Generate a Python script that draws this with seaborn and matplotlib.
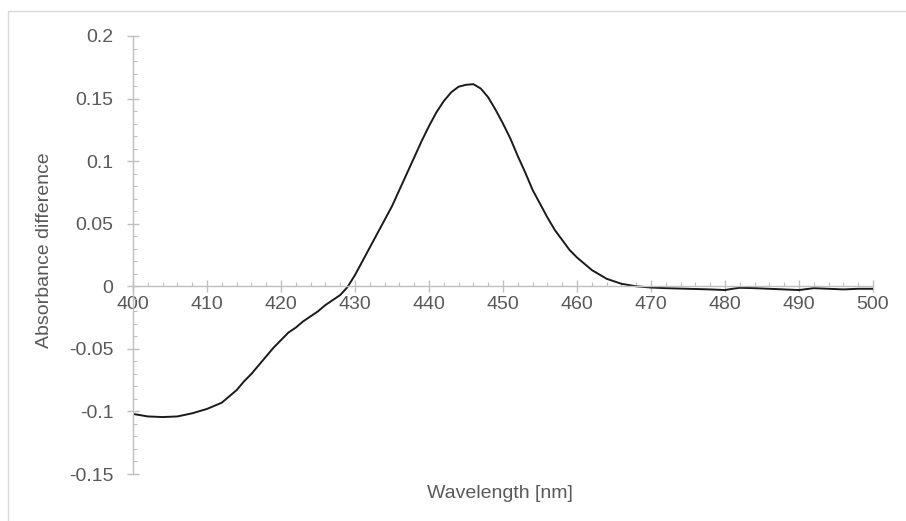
import numpy as np
import pandas as pd
import matplotlib
matplotlib.use("Agg")
import matplotlib.pyplot as plt
from matplotlib.ticker import MultipleLocator, FixedLocator
from matplotlib.lines import Line2D
import seaborn as sns

wavelength = [400, 402, 404, 406, 408, 410, 412, 413, 414, 415, 416, 417, 418, 419,
              420, 421, 422, 423, 424, 425, 426, 427, 428, 429, 430, 431, 432, 433,
              434, 435, 436, 437, 438, 439, 440, 441, 442, 443, 444, 445, 446, 447,
              448, 449, 450, 451, 452, 453, 454, 455, 456, 457, 458, 459, 460, 462,
              464, 466, 468, 470, 472, 475, 478, 480, 481, 482, 484, 486, 488, 490,
              492, 494, 496, 498, 500]
absorbance = [-0.102, -0.104, -0.1045, -0.104, -0.1015, -0.098, -0.093, -0.088, -0.083,
              -0.076, -0.070, -0.063, -0.056, -0.049, -0.043, -0.037, -0.033, -0.028,
              -0.024, -0.020, -0.015, -0.011, -0.007, -0.0005, 0.009, 0.020, 0.031,
              0.042, 0.053, 0.064, 0.077, 0.090, 0.103, 0.116, 0.128, 0.139, 0.148,
              0.155, 0.1595, 0.161, 0.1615, 0.158, 0.151, 0.141, 0.130, 0.118, 0.104,
              0.091, 0.077, 0.066, 0.055, 0.045, 0.037, 0.029, 0.023, 0.013, 0.006,
              0.002, 0.0, -0.001, -0.0015, -0.002, -0.0025, -0.003, -0.002, -0.0012,
              -0.0015, -0.002, -0.0025, -0.003, -0.0015, -0.002, -0.0025, -0.002, -0.002]

x_ticks = [400, 410, 420, 430, 440, 450, 460, 470, 480, 490, 500]
y_ticks = [-0.15, -0.1, -0.05, 0, 0.05, 0.1, 0.15, 0.2]
y_tick_labels = ["-0.15", "-0.1", "-0.05", "0", "0.05", "0.1", "0.15", "0.2"]

df = pd.DataFrame({"Wavelength": wavelength, "Absorbance": absorbance})

sns.set_theme(style="white")
plt.rcParams["font.family"] = ["Liberation Sans", "DejaVu Sans"]

W, H = 906, 521
fig = plt.figure(figsize=(W / 100, H / 100), dpi=100)
ax = fig.add_axes([133 / W, 1 - 474 / H, 740 / W, 438 / H])

sns.lineplot(data=df, x="Wavelength", y="Absorbance", ax=ax, color="#1a1a1a",
             linewidth=1.4)

ax.set_xlim(400, 500)
ax.set_ylim(-0.15, 0.2)

axis_gray = "#bfbfbf"
text_gray = "#595959"

for s in ["top", "right"]:
    ax.spines[s].set_visible(False)
ax.spines["bottom"].set_position(("data", 0))
ax.spines["left"].set_position(("data", 400))
for s in ["bottom", "left"]:
    ax.spines[s].set_color(axis_gray)
    ax.spines[s].set_linewidth(1.0)

ax.xaxis.set_major_locator(FixedLocator(x_ticks))
ax.xaxis.set_minor_locator(MultipleLocator(2))
ax.yaxis.set_major_locator(FixedLocator(y_ticks))
ax.set_yticklabels(y_tick_labels)
ax.yaxis.set_minor_locator(MultipleLocator(0.01))

ax.tick_params(axis="x", which="major", direction="inout", length=8.6, width=1.0,
               color=axis_gray, labelsize=14, labelcolor=text_gray, pad=3.0,
               bottom=True)
ax.tick_params(axis="x", which="minor", direction="in", length=3, width=0.8,
               color=axis_gray, bottom=True)
ax.tick_params(axis="y", which="major", direction="inout", length=9, width=1.0,
               color=axis_gray, labelsize=14, labelcolor=text_gray, pad=9.5,
               left=True)
ax.tick_params(axis="y", which="minor", direction="in", length=3, width=0.8,
               color=axis_gray, left=True)

ax.set_xlabel("")
ax.set_ylabel("")
fig.text(500 / W, 1 - 493 / H, "Wavelength [nm]", ha="center", va="center",
         fontsize=14, color=text_gray)
fig.text(45 / W, 1 - 250 / H, "Absorbance difference", ha="center", va="center",
         rotation=90, fontsize=14, color=text_gray)

# chart border
border_color = "#d9d9d9"
fig.add_artist(Line2D([7.5 / W, 7.5 / W], [0, 1 - 11 / H], transform=fig.transFigure,
                      color=border_color, linewidth=1.0))
fig.add_artist(Line2D([7.5 / W, 1], [1 - 11 / H, 1 - 11 / H], transform=fig.transFigure,
                      color=border_color, linewidth=1.0))

fig.savefig("out.png", dpi=100)
